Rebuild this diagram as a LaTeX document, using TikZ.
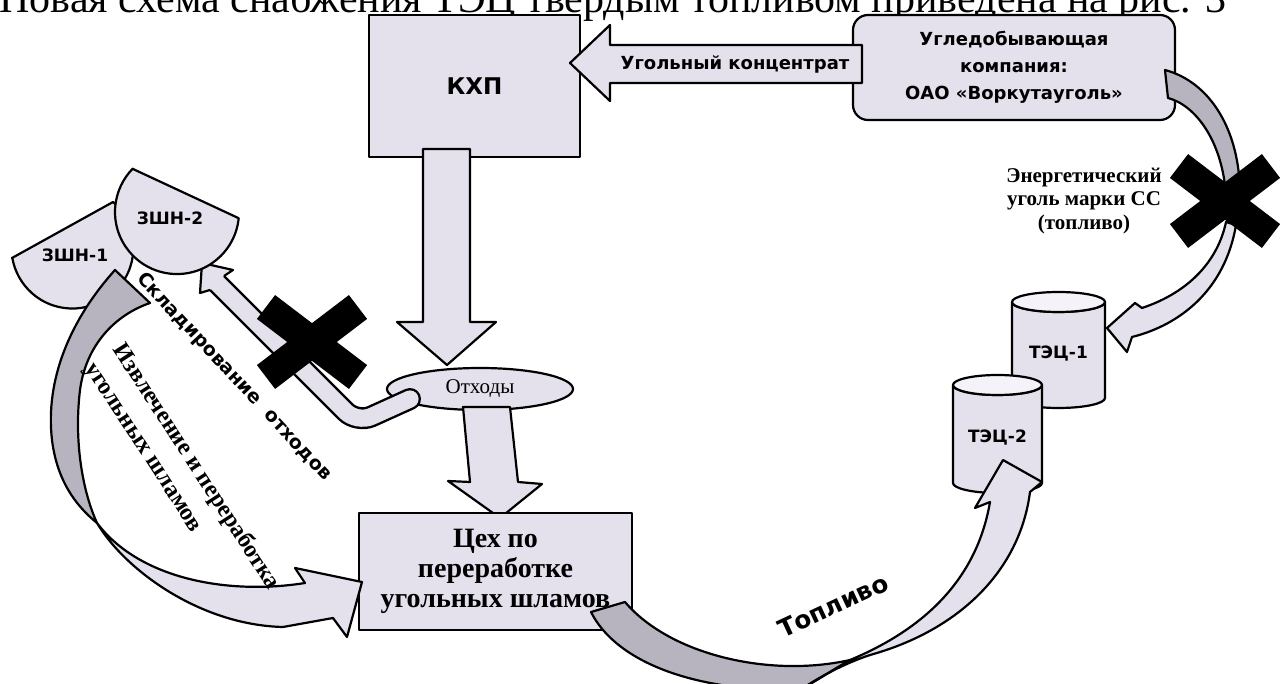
\documentclass[tikz,border=0pt]{standalone}
\usepackage{fontspec}
\setmainfont{Liberation Serif}
\newfontfamily\dejavu{DejaVu Sans}
\usepackage{tikz}
\usetikzlibrary{shapes.geometric}
\definecolor{lav}{RGB}{228,224,236}
\definecolor{lavdark}{RGB}{184,180,191}
\definecolor{cyltop}{RGB}{245,243,249}
\tikzset{
	blk/.style={draw=black, line width=1.1pt, fill=lav, line join=round},
	blkdark/.style={blk, fill=lavdark},
	sanslbl/.style={inner sep=0pt, align=center, font=\dejavu\bfseries\fontsize{9}{13.5}\selectfont},
	seriflbl/.style={inner sep=0pt, align=center, font=\bfseries\fontsize{10.5}{11.75}\selectfont},
}
% big black cross, centre in pixels
\def\cross(#1,#2){\draw[line width=15pt] (#1-46,#2-35) -- (#1+46,#2+35); \draw[line width=15pt] (#1-46,#2+35) -- (#1+46,#2-35);}
% cylinder: centre x, top y, bottom y, x radius, name, text
\def\tec(#1,#2,#3,#4)#5#6{\draw[blk] (#1-#4,#2) -- (#1-#4,#3) arc[start angle=180, end angle=0, x radius=#4, y radius=10] -- (#1+#4,#2) arc[start angle=0, end angle=180, x radius=#4, y radius=10] -- cycle;
	\draw[blk, fill=cyltop] (#1,#2) ellipse[x radius=#4, y radius=10];
	\node[sanslbl, font=\dejavu\bfseries\fontsize{8.5}{8.5}\selectfont] (#5) at (#1,#2/2+#3/2+4) {#6};}

\begin{document}
\begin{tikzpicture}[x=0.5pt, y=-0.5pt]
	%%%%% START %%%%%
	\useasboundingbox (0,0) rectangle (1282,684);
	\clip (0,0) rectangle (1282,684);
	
	\node[anchor=base west, inner sep=0pt, font=\fontsize{21}{21}\selectfont] (title) at (-1,13) {Новая схема снабжения ТЭЦ твердым топливом приведена на рис. 3};
	
	\node[blk, minimum width=105.5pt, minimum height=71pt, font=\dejavu\bfseries\fontsize{11.5}{11.5}\selectfont] (khp) at (474.5,86) {КХП};
	\node[blk, sanslbl, rounded corners=7.5pt, minimum width=161pt, minimum height=52.5pt] (ugol) at (1014,67.5) {Угледобывающая\\компания:\\ОАО «Воркутауголь»};
	
	\draw[blk] (570,63) -- (610,25) -- (610,45) -- (862,45) -- (862,83) -- (610,83) -- (610,101) -- cycle;
	\node[sanslbl] (konc) at (735,64) {Угольный концентрат};
	
	\draw[blk] (423,149) -- (470,149) -- (470,322) -- (496,322) -- (447,365) -- (397,322) -- (423,322) -- cycle;
	
	\node[blk, ellipse, minimum width=93pt, minimum height=21pt, inner sep=0pt, font=\fontsize{10.5}{10.5}\selectfont] (othody) at (480,389) {Отходы};
	\draw[blk] (463,407) -- (510,407) -- (518,482) -- (542,484) -- (500,518) -- (448,481) -- (470,482) -- cycle;
	
	% storage band to the dumps
	\draw[line width=11pt, rounded corners=8pt, line cap=round] (410,399) -- (357,423) -- (217,283);
	\draw[line width=8.6pt, lav, rounded corners=8pt, line cap=round] (410,399) -- (357,423) -- (217,283);
	\fill[lav] (210,290) -- (200,293) -- (202,263) -- (233,270) -- (224,276) -- cycle;
	\draw[line width=1.1pt, line join=round] (210,290) -- (200,293) -- (202,263) -- (233,270) -- (224,276);
	
	\node[blk, minimum width=136.5pt, minimum height=58.5pt, inner sep=0pt, align=center, font=\bfseries\fontsize{14}{15}\selectfont] (ceh) at (495.5,571.5) {Цех по\\переработке\\угольных шламов};
	
	% dumps
	\draw[blk] (12,258) -- (113,202) arc[start angle=-48.3, end angle=170.5, radius=61] -- cycle;
	\draw[blk] (133,169) -- (238.7,218.2) arc[start angle=5.7, end angle=224.4, radius=62] -- cycle;
	\node[sanslbl, font=\dejavu\bfseries\fontsize{8.5}{8.5}\selectfont] (zshn1) at (75,255) {ЗШН-1};
	\node[sanslbl, font=\dejavu\bfseries\fontsize{8.5}{8.5}\selectfont] (zshn2) at (170,218) {ЗШН-2};
	
	% left curved arrow
	\draw[blkdark] (115,270) .. controls (70,320) and (45,380) .. (52,440) .. controls (57,480) and (75,505) .. (97,523) .. controls (82,490) and (74,440) .. (80,390) .. controls (86,345) and (115,315) .. (150,303) -- cycle;
	\draw[blk] (97,523) .. controls (125,570) and (200,625) .. (283,627) -- (333,618) -- (347,637) -- (362,582) -- (295,568) -- (305,583) .. controls (230,595) and (140,580) .. (97,523) -- cycle;
	
	\tec(1058.5,302,398,46.5){tec1}{ТЭЦ-1}
	\tec(997.5,385,483,44.5){tec2}{ТЭЦ-2}
	
	% fuel arrow
	\draw[blkdark] (591,612) .. controls (615,660) and (690,692) .. (800,690) -- (850,660) .. controls (770,678) and (670,655) .. (625,602) -- cycle;
	\draw[blk] (850,660) .. controls (910,635) and (975,590) .. (990,502) -- (975,508) -- (1003,460) -- (1042,482) -- (1030,492) .. controls (1020,570) and (960,630) .. (870,655) .. controls (840,665) and (815,680) .. (800,690) -- cycle;
	
	% right curved arrow
	\draw[blkdark] (1165,70) .. controls (1210,82) and (1240,130) .. (1240,195) -- (1226,195) .. controls (1222,140) and (1195,105) .. (1168,98) -- cycle;
	\draw[blk] (1226,222) .. controls (1218,260) and (1190,292) .. (1142,308) -- (1135,303) -- (1107,328) -- (1127,352) -- (1132,337) .. controls (1180,325) and (1225,290) .. (1236,225) -- cycle;
	
	\cross(312,342)
	\cross(1225,201)
	
	\node[seriflbl] (energ) at (1084,201) {Энергетический\\уголь марки СС\\(топливо)};
	\node[inner sep=0pt, rotate=-47, font=\dejavu\bfseries\fontsize{9.5}{9.5}\selectfont] (sklad) at (234,377) {Складирование\ \ отходов};
	\node[inner sep=0pt, rotate=-57, font=\bfseries\fontsize{12}{12}\selectfont] (izvl1) at (196,467) {Извлечение и переработка};
	\node[inner sep=0pt, rotate=-57, font=\bfseries\fontsize{12}{12}\selectfont] (izvl2) at (141,449) {угольных шламов};
	\node[inner sep=0pt, rotate=25, font=\dejavu\bfseries\fontsize{12.3}{12.3}\selectfont] (topl) at (833,606) {Топливо};
	%%%%% END %%%%%
\end{tikzpicture}
\end{document}
